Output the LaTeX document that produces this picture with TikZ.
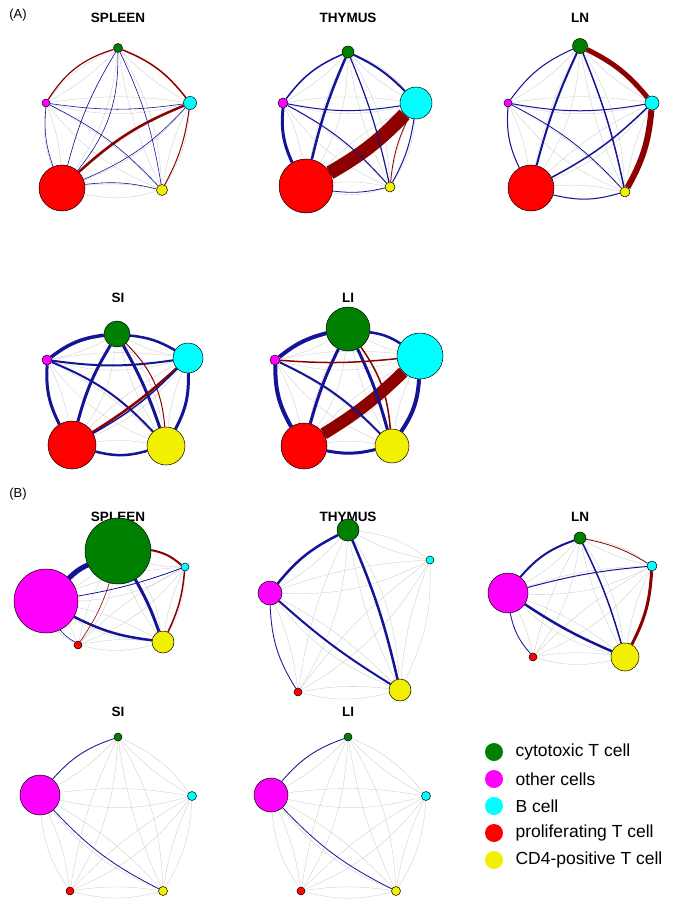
\documentclass[tikz,border=0pt]{standalone}
\usepackage{fontspec}
\setmainfont{Liberation Sans}
\usetikzlibrary{backgrounds}
\definecolor{netblue}{RGB}{20,20,150}
\definecolor{netred}{RGB}{140,0,0}
\definecolor{cytogreen}{RGB}{0,128,0}
\definecolor{othermag}{RGB}{255,0,255}
\definecolor{bcyan}{RGB}{0,255,255}
\definecolor{prolred}{RGB}{255,0,0}
\definecolor{cdyellow}{RGB}{240,240,0}

\begin{document}
\begin{tikzpicture}[x=1pt,y=-1pt,
cell/.style={circle, draw=black, line width=0.5pt, inner sep=0pt},
cyto/.style={cell, fill=cytogreen, minimum size=#1},
other/.style={cell, fill=othermag, minimum size=#1},
bcell/.style={cell, fill=bcyan, minimum size=#1},
prolif/.style={cell, fill=prolred, minimum size=#1},
cdfour/.style={cell, fill=cdyellow, minimum size=#1},
dot/.style={circle, draw=none, inner sep=0pt, minimum size=18pt, fill=#1},
faint/.style={draw=black!22, line width=0.3pt},
bl/.style={draw=netblue, line width=#1},
rd/.style={draw=netred, line width=#1},
title/.style={font=\fontsize{13.5}{15}\selectfont\bfseries},
panel/.style={font=\fontsize{13}{15}\selectfont},
legend/.style={anchor=west, font=\fontsize{17.5}{19}\selectfont}
]
\useasboundingbox (0,0) rectangle (675,910);

% panel labels and titles
\node[panel] (labA) at (18,15) {(A)};
\node[panel] (labB) at (18,494) {(B)};
\node[title] (tas) at (118,18) {SPLEEN};
\node[title] (tat) at (348,18) {THYMUS};
\node[title] (tal) at (580,18) {LN};
\node[title] (tai) at (118,298) {SI};
\node[title] (tali) at (348,298) {LI};
\node[title] (tbs) at (118,517) {SPLEEN};
\node[title] (tbt) at (348,517) {THYMUS};
\node[title] (tbl) at (580,517) {LN};
\node[title] (tbi) at (118,712) {SI};
\node[title] (tbli) at (348,712) {LI};

% (A) SPLEEN
\node[cyto=9pt] (as-g) at (118,48) {};
\node[other=8pt] (as-m) at (46,103) {};
\node[bcell=13pt] (as-c) at (190,103) {};
\node[cdfour=11pt] (as-y) at (162,190) {};
\node[prolif=46pt] (as-r) at (62,188) {};
% (A) THYMUS
\node[cyto=12pt] (at-g) at (348,52) {};
\node[other=10pt] (at-m) at (283,103) {};
\node[bcell=32pt] (at-c) at (416,103) {};
\node[cdfour=10pt] (at-y) at (390,187) {};
\node[prolif=54pt] (at-r) at (306,186) {};
% (A) LN
\node[cyto=15pt] (al-g) at (580,46) {};
\node[other=8pt] (al-m) at (508,103) {};
\node[bcell=14pt] (al-c) at (652,103) {};
\node[cdfour=10pt] (al-y) at (625,192) {};
\node[prolif=46pt] (al-r) at (531,188) {};
% (A) SI
\node[cyto=26pt] (ai-g) at (117,334) {};
\node[other=10pt] (ai-m) at (47,360) {};
\node[bcell=30pt] (ai-c) at (188,358) {};
\node[cdfour=38pt] (ai-y) at (166,446) {};
\node[prolif=48pt] (ai-r) at (72,445) {};
% (A) LI
\node[cyto=44pt] (ali-g) at (348,329) {};
\node[other=10pt] (ali-m) at (275,360) {};
\node[bcell=46pt] (ali-c) at (420,356) {};
\node[cdfour=34pt] (ali-y) at (392,446) {};
\node[prolif=46pt] (ali-r) at (304,446) {};
% (B) SPLEEN
\node[cyto=66pt] (bs-g) at (118,551) {};
\node[other=64pt] (bs-m) at (46,601) {};
\node[bcell=8pt] (bs-c) at (185,567) {};
\node[cdfour=22pt] (bs-y) at (163,642) {};
\node[prolif=8pt] (bs-r) at (78,645) {};
% (B) THYMUS
\node[cyto=22pt] (bt-g) at (348,530) {};
\node[other=24pt] (bt-m) at (270,593) {};
\node[bcell=8pt] (bt-c) at (430,560) {};
\node[cdfour=22pt] (bt-y) at (400,690) {};
\node[prolif=8pt] (bt-r) at (298,692) {};
% (B) LN
\node[cyto=12pt] (bl-g) at (580,538) {};
\node[other=40pt] (bl-m) at (508,593) {};
\node[bcell=10pt] (bl-c) at (652,566) {};
\node[cdfour=28pt] (bl-y) at (625,657) {};
\node[prolif=8pt] (bl-r) at (533,657) {};
% (B) SI
\node[cyto=8pt] (bi-g) at (118,737) {};
\node[other=40pt] (bi-m) at (40,795) {};
\node[bcell=9pt] (bi-c) at (192,796) {};
\node[cdfour=9pt] (bi-y) at (163,891) {};
\node[prolif=8pt] (bi-r) at (70,891) {};
% (B) LI
\node[cyto=8pt] (bli-g) at (348,737) {};
\node[other=34pt] (bli-m) at (271,795) {};
\node[bcell=9pt] (bli-c) at (426,796) {};
\node[cdfour=9pt] (bli-y) at (396,891) {};
\node[prolif=8pt] (bli-r) at (301,891) {};

% legend
\node[dot=cytogreen] (lg-g) at (494,752) {};
\node[dot=othermag] (lg-m) at (494,779) {};
\node[dot=bcyan] (lg-c) at (494,806) {};
\node[dot=prolred] (lg-r) at (494,833) {};
\node[dot=cdyellow] (lg-y) at (494,860) {};
\node[legend] (tx-g) at (512,752) {cytotoxic T cell};
\node[legend] (tx-m) at (512,779) {other cells};
\node[legend] (tx-c) at (512,806) {B cell};
\node[legend] (tx-r) at (512,833) {proliferating T cell};
\node[legend] (tx-y) at (512,860) {CD4-positive T cell};

\begin{scope}[on background layer]
% faint background edges
\foreach \p in {as,at,al,ai,ali,bs,bt,bl,bi,bli}
  \foreach \a/\b in {g/c,c/y,y/r,r/m,m/g,g/y,g/r,c/r,c/m,y/m}
  {
    \draw[faint] (\p-\a) to[bend left=14] (\p-\b);
    \draw[faint] (\p-\a) to[bend right=8] (\p-\b);
  }

% (A) SPLEEN
\draw[rd=2.5pt] (as-c) to[bend right=10] (as-r);
\draw[rd=1.5pt] (as-g) to[bend left=15] (as-c);
\draw[rd=1.2pt] (as-g) to[bend right=20] (as-m);
\draw[rd=1pt] (as-c) to[bend left=10] (as-y);
\draw[bl=0.6pt] (as-g) to[bend left=8] (as-y);
\draw[bl=0.6pt] (as-g) to[bend right=8] (as-r);
\draw[bl=0.6pt] (as-m) to[bend left=10] (as-y);
\draw[bl=0.6pt] (as-m) to[bend right=8] (as-c);
\draw[bl=0.6pt] (as-c) to[bend left=12] (as-r);
\draw[bl=0.6pt] (as-r) to[bend left=10] (as-y);
\draw[bl=0.6pt] (as-m) to[bend right=12] (as-r);
\draw[bl=0.6pt] (as-g) to[bend left=20] (as-r);
% (A) THYMUS
\draw[rd=14pt] (at-r) to[bend right=8] (at-c);
\draw[bl=3pt] (at-r) to[bend left=15] (at-m);
\draw[bl=2.5pt] (at-r) to[bend left=5] (at-g);
\draw[bl=2pt] (at-g) to[bend left=10] (at-c);
\draw[bl=1.5pt] (at-m) to[bend left=15] (at-g);
\draw[bl=1.2pt] (at-g) to[bend left=5] (at-y);
\draw[bl=1pt] (at-m) to[bend right=10] (at-c);
\draw[bl=1pt] (at-c) to[bend left=10] (at-y);
\draw[bl=1pt] (at-m) to[bend left=10] (at-y);
\draw[rd=0.8pt] (at-c) to[bend right=10] (at-y);
\draw[bl=0.8pt] (at-r) to[bend right=10] (at-y);
% (A) LN
\draw[rd=6pt] (al-c) to[bend left=12] (al-y);
\draw[rd=5pt] (al-g) to[bend left=12] (al-c);
\draw[bl=2pt] (al-g) to[bend right=5] (al-r);
\draw[bl=1.5pt] (al-g) to[bend left=5] (al-y);
\draw[bl=1.5pt] (al-c) to[bend left=8] (al-r);
\draw[bl=1pt] (al-m) to[bend left=15] (al-g);
\draw[bl=1pt] (al-m) to[bend right=10] (al-c);
\draw[bl=1pt] (al-m) to[bend right=15] (al-r);
\draw[bl=1pt] (al-r) to[bend right=15] (al-y);
\draw[bl=0.8pt] (al-m) to[bend left=10] (al-y);
% (A) SI
\draw[bl=3.5pt] (ai-m) to[bend left=15] (ai-g);
\draw[bl=3pt] (ai-m) to[bend right=15] (ai-r);
\draw[bl=3pt] (ai-g) to[bend right=8] (ai-r);
\draw[bl=3pt] (ai-g) to[bend left=5] (ai-y);
\draw[bl=3pt] (ai-c) to[bend left=15] (ai-y);
\draw[bl=2.5pt] (ai-g) to[bend left=12] (ai-c);
\draw[bl=2.5pt] (ai-r) to[bend right=15] (ai-y);
\draw[bl=2pt] (ai-m) to[bend right=8] (ai-c);
\draw[bl=2pt] (ai-m) to[bend left=12] (ai-y);
\draw[rd=2.5pt] (ai-r) to[bend right=5] (ai-c);
\draw[rd=1pt] (ai-g) to[bend left=20] (ai-y);
\draw[bl=1.5pt] (ai-c) to[bend left=8] (ai-r);
% (A) LI
\draw[rd=12pt] (ali-r) to[bend right=6] (ali-c);
\draw[bl=4pt] (ali-m) to[bend left=12] (ali-g);
\draw[bl=4pt] (ali-m) to[bend right=15] (ali-r);
\draw[bl=4pt] (ali-c) to[bend left=15] (ali-y);
\draw[bl=3pt] (ali-g) to[bend right=5] (ali-r);
\draw[bl=3pt] (ali-g) to[bend left=5] (ali-y);
\draw[bl=3pt] (ali-r) to[bend right=12] (ali-y);
\draw[bl=2.5pt] (ali-g) to[bend left=12] (ali-c);
\draw[bl=2pt] (ali-m) to[bend left=10] (ali-y);
\draw[rd=1.5pt] (ali-m) to[bend right=5] (ali-c);
\draw[rd=1.5pt] (ali-g) to[bend left=15] (ali-y);
% (B) SPLEEN
\draw[bl=5pt] (bs-m) to[bend left=10] (bs-g);
\draw[bl=3pt] (bs-g) to[bend left=5] (bs-y);
\draw[bl=2.5pt] (bs-m) to[bend right=10] (bs-y);
\draw[rd=2pt] (bs-g) to[bend left=15] (bs-c);
\draw[rd=1.5pt] (bs-c) to[bend left=10] (bs-y);
\draw[bl=0.8pt] (bs-m) to[bend right=5] (bs-c);
\draw[bl=0.6pt] (bs-m) to[bend right=10] (bs-r);
\draw[rd=0.6pt] (bs-g) to[bend left=8] (bs-r);
% (B) THYMUS
\draw[bl=2.5pt] (bt-m) to[bend left=12] (bt-g);
\draw[bl=2.5pt] (bt-g) to[bend left=5] (bt-y);
\draw[bl=2pt] (bt-m) to[bend right=5] (bt-y);
\draw[bl=0.8pt] (bt-m) to[bend right=15] (bt-r);
% (B) LN
\draw[rd=3pt] (bl-c) to[bend left=12] (bl-y);
\draw[bl=2pt] (bl-m) to[bend left=15] (bl-g);
\draw[bl=2.5pt] (bl-m) to[bend right=5] (bl-y);
\draw[bl=1.5pt] (bl-g) to[bend left=5] (bl-y);
\draw[rd=0.8pt] (bl-g) to[bend left=10] (bl-c);
\draw[bl=1pt] (bl-m) to[bend left=5] (bl-c);
\draw[bl=0.8pt] (bl-m) to[bend right=15] (bl-r);
% (B) SI
\draw[bl=0.8pt] (bi-m) to[bend left=15] (bi-g);
\draw[bl=0.8pt] (bi-m) to[bend right=10] (bi-y);
% (B) LI
\draw[bl=0.8pt] (bli-m) to[bend left=15] (bli-g);
\draw[bl=0.8pt] (bli-m) to[bend right=10] (bli-y);
\end{scope}
\end{tikzpicture}
\end{document}
